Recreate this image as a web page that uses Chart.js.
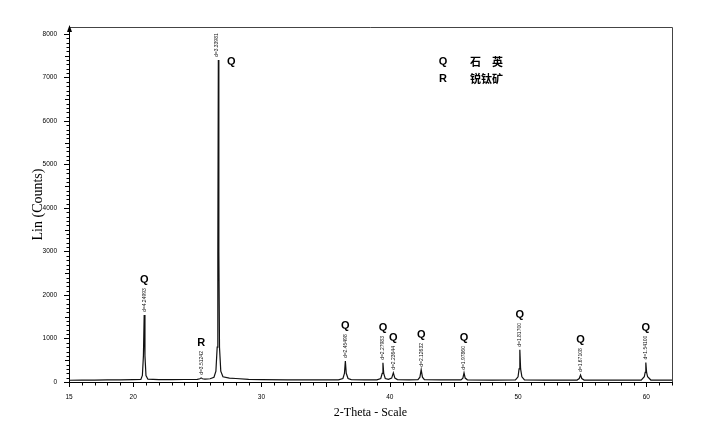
<!DOCTYPE html>
<html>
<head>
<meta charset="utf-8">
<script src="https://cdn.jsdelivr.net/npm/chart.js@4.4.0/dist/chart.umd.min.js"></script>
<style>
  html, body { margin: 0; padding: 0; background: #fff; }
</style>
</head>
<body>
<canvas id="chart1" width="702" height="426"></canvas>
<script>
// scan points (2-theta, counts)
var twoTheta = [15.0, 16.0, 17.0, 18.0, 19.0, 20.0, 20.6, 20.72, 20.8, 20.86, 20.92, 21.0, 21.15, 22.0, 23.0, 24.0,
  25.0, 25.2, 25.3, 25.4, 25.6, 26.0, 26.3, 26.45, 26.55, 26.6, 26.64, 26.68, 26.73, 26.83, 27.0, 27.5, 28.0, 29.0,
  30.0, 32.0, 34.0, 36.0, 36.35, 36.47, 36.54, 36.61, 36.75, 37.0, 38.0, 39.0, 39.3, 39.41, 39.47, 39.53, 39.65, 39.9,
  40.15, 40.28, 40.4, 40.6, 41.5, 42.2, 42.35, 42.45, 42.55, 42.7, 44.0, 45.55, 45.7, 45.79, 45.88, 46.05, 48.0,
  49.8, 50.0, 50.08, 50.14, 50.2, 50.3, 50.5, 52.0, 54.6, 54.77, 54.87, 54.97, 55.15, 57.0, 59.6, 59.84, 59.91,
  59.96, 60.02, 60.1, 60.35, 61.0, 62.0];
var counts = [40, 45, 45, 50, 50, 55, 60, 150, 600, 1540, 600, 150, 65, 55, 55, 58,
  60, 75, 95, 75, 65, 75, 110, 250, 800, 3000, 7400, 3000, 800, 250, 120, 90, 80, 60,
  55, 50, 50, 50, 80, 200, 480, 200, 80, 55, 50, 50, 80, 200, 440, 200, 80, 60,
  90, 210, 90, 55, 50, 55, 110, 280, 110, 55, 50, 50, 90, 210, 90, 50, 45,
  50, 120, 300, 740, 300, 120, 50, 45, 45, 80, 160, 80, 45, 45, 45, 120, 220,
  450, 220, 120, 45, 45, 45];

// labelled reflections
var peakPos = [20.86, 25.30, 26.64, 36.54, 39.47, 40.28, 42.45, 45.79, 50.14, 54.87, 59.96];
var peakTop = [1540, 95, 7400, 480, 440, 210, 280, 210, 740, 160, 450];
var peakPhase = ['Q', 'R', 'Q', 'Q', 'Q', 'Q', 'Q', 'Q', 'Q', 'Q', 'Q'];
var peakD = ['d=4.24993', 'd=3.51242', 'd=3.33981', 'd=2.45498', 'd=2.27983', 'd=2.23644', 'd=2.12632',
  'd=1.97860', 'd=1.81700', 'd=1.67108', 'd=1.54100'];

var phaseKeys = ['Q', 'R'];
var phaseNames = [['石', '英'], ['锐钛矿']];

var xTickLabels = [15, 20, 30, 40, 50, 60];
var yTickLabels = [0, 1000, 2000, 3000, 4000, 5000, 6000, 7000, 8000];

var points = [];
for (let i = 0; i < twoTheta.length; i++) {
  points.push({ x: twoTheta[i], y: counts[i] });
}

var decor = {
  id: 'decor',
  afterDraw: function (chart) {
    var ctx = chart.ctx;
    var xs = chart.scales.x, ys = chart.scales.y;
    var a = chart.chartArea;
    ctx.save();
    // frame top / right
    ctx.strokeStyle = '#444';
    ctx.lineWidth = 1;
    ctx.beginPath();
    ctx.moveTo(a.left, Math.round(a.top) + 0.5);
    ctx.lineTo(Math.round(a.right) + 0.5, Math.round(a.top) + 0.5);
    ctx.lineTo(Math.round(a.right) + 0.5, a.bottom);
    ctx.stroke();

    // tick marks
    ctx.strokeStyle = '#000';
    ctx.beginPath();
    for (let v = 0; v <= 8000; v += 100) {
      let py = Math.round(ys.getPixelForValue(v)) + 0.5;
      let len = v % 1000 === 0 ? 5 : (v % 500 === 0 ? 4 : 2.5);
      ctx.moveTo(a.left - len, py);
      ctx.lineTo(a.left, py);
    }
    for (let v = 15; v <= 62; v++) {
      let px = Math.round(xs.getPixelForValue(v)) + 0.5;
      let len = v % 5 === 0 ? 5 : 3.5;
      ctx.moveTo(px, a.bottom);
      ctx.lineTo(px, a.bottom + len);
    }
    ctx.stroke();

    // arrow at top of y axis
    ctx.fillStyle = '#000';
    ctx.beginPath();
    ctx.moveTo(a.left + 0.5, a.top - 2);
    ctx.lineTo(a.left - 2, a.top + 5);
    ctx.lineTo(a.left + 3, a.top + 5);
    ctx.closePath();
    ctx.fill();

    // peak annotations
    for (let i = 0; i < peakPos.length; i++) {
      let px = xs.getPixelForValue(peakPos[i]);
      let py = ys.getPixelForValue(peakTop[i]);
      ctx.font = '5px "Liberation Sans", Arial, sans-serif';
      let w = ctx.measureText(peakD[i]).width;
      let besideQ = py < a.top + 60;
      ctx.save();
      ctx.translate(besideQ ? px - 2 : px, py - 3);
      ctx.rotate(-Math.PI / 2);
      ctx.textAlign = 'left';
      ctx.textBaseline = 'middle';
      ctx.fillStyle = '#111';
      ctx.fillText(peakD[i], 0, 0);
      ctx.restore();
      ctx.font = 'bold 11px "Liberation Sans", Arial, sans-serif';
      ctx.textAlign = 'center';
      ctx.textBaseline = 'middle';
      ctx.fillStyle = '#000';
      if (besideQ) {
        ctx.fillText(peakPhase[i], px + 13, py + 2);
      } else {
        ctx.fillText(peakPhase[i], px, py - 3 - w - 8);
      }
    }

    // phase key
    for (let i = 0; i < phaseKeys.length; i++) {
      let ty = 62 + i * 17;
      ctx.font = 'bold 11px "Liberation Sans", Arial, sans-serif';
      ctx.textAlign = 'center';
      ctx.textBaseline = 'middle';
      ctx.fillText(phaseKeys[i], 443, ty);
      ctx.font = 'bold 11px "Noto Sans CJK SC", sans-serif';
      ctx.textAlign = 'left';
      let parts = phaseNames[i];
      for (let j = 0; j < parts.length; j++) {
        ctx.fillText(parts[j], 470 + j * 22, ty);
      }
    }
    ctx.restore();
  }
};

var ctx = document.getElementById('chart1');
var myChart = new Chart(ctx, {
  type: 'line',
  data: {
    datasets: [{
      label: 'Lin (Counts)',
      data: points,
      borderColor: '#111',
      borderWidth: 1.2,
      pointRadius: 0,
      tension: 0,
      fill: false
    }]
  },
  options: {
    responsive: false,
    animation: false,
    devicePixelRatio: 1,
    layout: { padding: { top: 27, right: 30, left: 0, bottom: 0 } },
    plugins: {
      legend: { display: false },
      tooltip: { enabled: false }
    },
    scales: {
      x: {
        type: 'linear',
        min: 15,
        max: 62,
        afterFit: function (scale) { scale.height = 44; },
        grid: { display: false, drawTicks: false },
        border: { display: true, color: '#000', width: 1 },
        ticks: {
          stepSize: 1,
          autoSkip: false,
          maxRotation: 0,
          padding: 11,
          color: '#000',
          font: { family: '"Liberation Sans", Arial, sans-serif', size: 6.5 },
          callback: function (v) { return xTickLabels.indexOf(v) >= 0 ? String(v) : ''; }
        },
        title: {
          display: true,
          text: '2-Theta - Scale',
          color: '#000',
          font: { family: '"Liberation Serif", "Times New Roman", serif', size: 12 },
          padding: { top: 0, bottom: 6 }
        }
      },
      y: {
        min: 0,
        max: 8160,
        afterFit: function (scale) { scale.width = 69; },
        afterBuildTicks: function (scale) {
          scale.ticks = yTickLabels.map(function (v) { return { value: v }; });
        },
        grid: { display: false, drawTicks: false },
        border: { display: true, color: '#000', width: 1 },
        ticks: {
          padding: 12,
          color: '#000',
          font: { family: '"Liberation Sans", Arial, sans-serif', size: 6.5 },
          callback: function (v) { return String(v); }
        },
        title: {
          display: true,
          text: 'Lin (Counts)',
          color: '#000',
          font: { family: '"Liberation Serif", "Times New Roman", serif', size: 14 },
          padding: { top: 30, bottom: 0 }
        }
      }
    }
  },
  plugins: [decor]
});
</script>
</body>
</html>
